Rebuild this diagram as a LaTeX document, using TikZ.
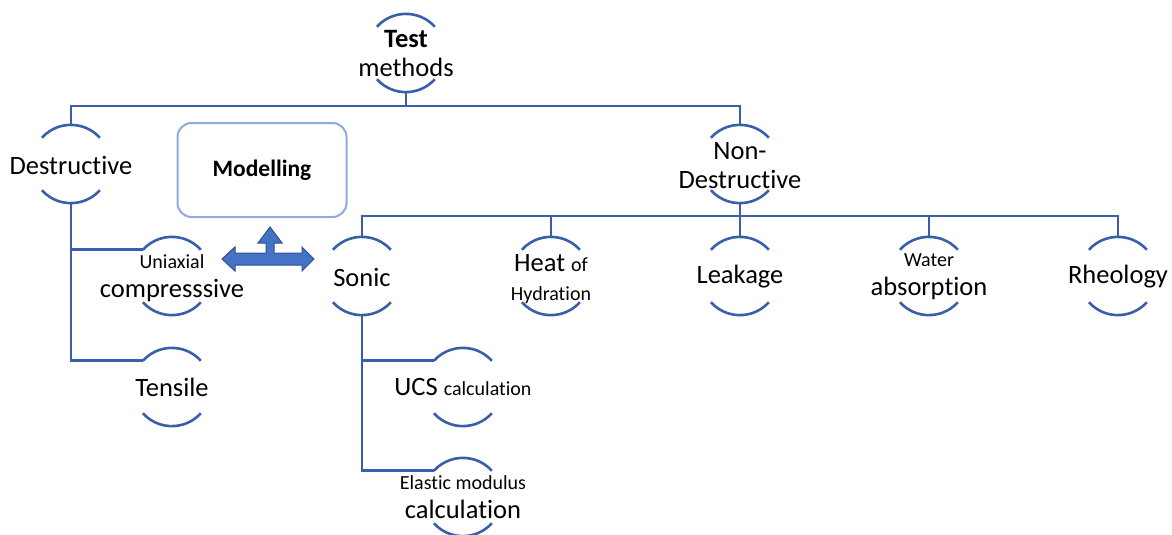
\documentclass[tikz,border=0pt]{standalone}
\usepackage{fontspec}
\setmainfont{Carlito}[Ligatures=NoCommon]

\definecolor{linkblue}{RGB}{58,95,170}
\definecolor{boxblue}{RGB}{143,170,220}
\definecolor{arrowfill}{RGB}{68,114,196}
\definecolor{arrowedge}{RGB}{47,82,143}
\newcommand\szL{\fontsize{26.5}{29}\selectfont}
\newcommand\szS{\fontsize{20}{29}\selectfont}

\begin{document}
\begin{tikzpicture}[x=1pt,y=1pt,
  ring/.style={circle,minimum size=78pt,inner sep=0pt},
  txt/.style={align=center,font=\szL,inner sep=0pt},
  link/.style={draw=linkblue,line width=2.6pt},
  model/.style={draw=boxblue,line width=2pt,rounded corners=14pt,
    minimum width=169pt,minimum height=94pt,font=\fontsize{23.5}{26}\selectfont\bfseries}]
  \useasboundingbox (0,0) rectangle (1172,-535);

  % rings
  \node[ring] (root) at (406,-53) {};
  \node[ring] (dst) at (71,-164) {};
  \node[ring] (ndt) at (740,-164) {};
  \node[ring] (uni) at (172,-276) {};
  \node[ring] (ten) at (172,-387) {};
  \node[ring] (son) at (362,-276) {};
  \node[ring] (heat) at (551,-276) {};
  \node[ring] (leak) at (740,-276) {};
  \node[ring] (wat) at (929,-276) {};
  \node[ring] (rheo) at (1118,-276) {};
  \node[ring] (ucs) at (463,-387) {};
  \node[ring] (ela) at (463,-497) {};
  \foreach \n in {root,dst,ndt,uni,ten,son,heat,leak,wat,rheo,ucs,ela}{
    \draw[link] (\n.138) arc[start angle=138,end angle=42,radius=39pt];
    \draw[link] (\n.222) arc[start angle=222,end angle=318,radius=39pt];
  }

  % texts
  \node[txt] (root-t) at (406,-54) {\textbf{Test}\\methods};
  \node[txt] (dst-t) at (71,-165) {Destructive};
  \node[txt] (ndt-t) at (740,-166) {Non-\\Destructive};
  \node[txt] (uni-t) at (172,-278) {{\szS Uniaxial}\\compresssive};
  \node[txt] (ten-t) at (172,-387) {Tensile};
  \node[txt] (son-t) at (362,-277) {Sonic};
  \node[txt] (heat-t) at (551,-279) {Heat {\szS of}\\{\szS Hydration}};
  \node[txt] (leak-t) at (740,-277) {Leakage};
  \node[txt] (wat-t) at (929,-277) {{\szS Water}\\absorption};
  \node[txt] (rheo-t) at (1118,-277) {Rheology};
  \node[txt] (ucs-t) at (463,-387) {UCS {\szS calculation}};
  \node[txt] (ela-t) at (463,-497) {{\szS Elastic modulus}\\calculation};

  \node[model] (mod) at (262,-170) {Modelling};

  % connectors
  \coordinate (hub) at (406,-106);
  \coordinate (ndhub) at (740,-216);
  \draw[link] (root.south) -- (hub);
  \draw[link] (dst.north) |- (hub) -| (ndt.north);
  \draw[link] (ndt.south) -- (ndhub);
  \draw[link] (son.north) |- (ndhub) -| (rheo.north);
  \draw[link] (heat.north) -- (heat.north |- ndhub);
  \draw[link] (leak.north) -- (ndhub);
  \draw[link] (wat.north) -- (wat.north |- ndhub);
  \draw[link] (dst.south) |- (uni.138);
  \draw[link] (dst.south) |- (ten.138);
  \draw[link] (son.south) |- (ucs.138);
  \draw[link] (son.south) |- (ela.138);

  % block arrow
  \filldraw[fill=arrowfill,draw=arrowedge,line width=1pt,line join=miter]
    (222,-259) -- (235,-247) -- (235,-253) -- (266,-253) -- (266,-243)
    -- (258,-243) -- (270,-227) -- (282,-243) -- (274,-243) -- (274,-253)
    -- (302,-253) -- (302,-247) -- (314,-259) -- (302,-271) -- (302,-265)
    -- (235,-265) -- (235,-271) -- cycle;
\end{tikzpicture}
\end{document}
